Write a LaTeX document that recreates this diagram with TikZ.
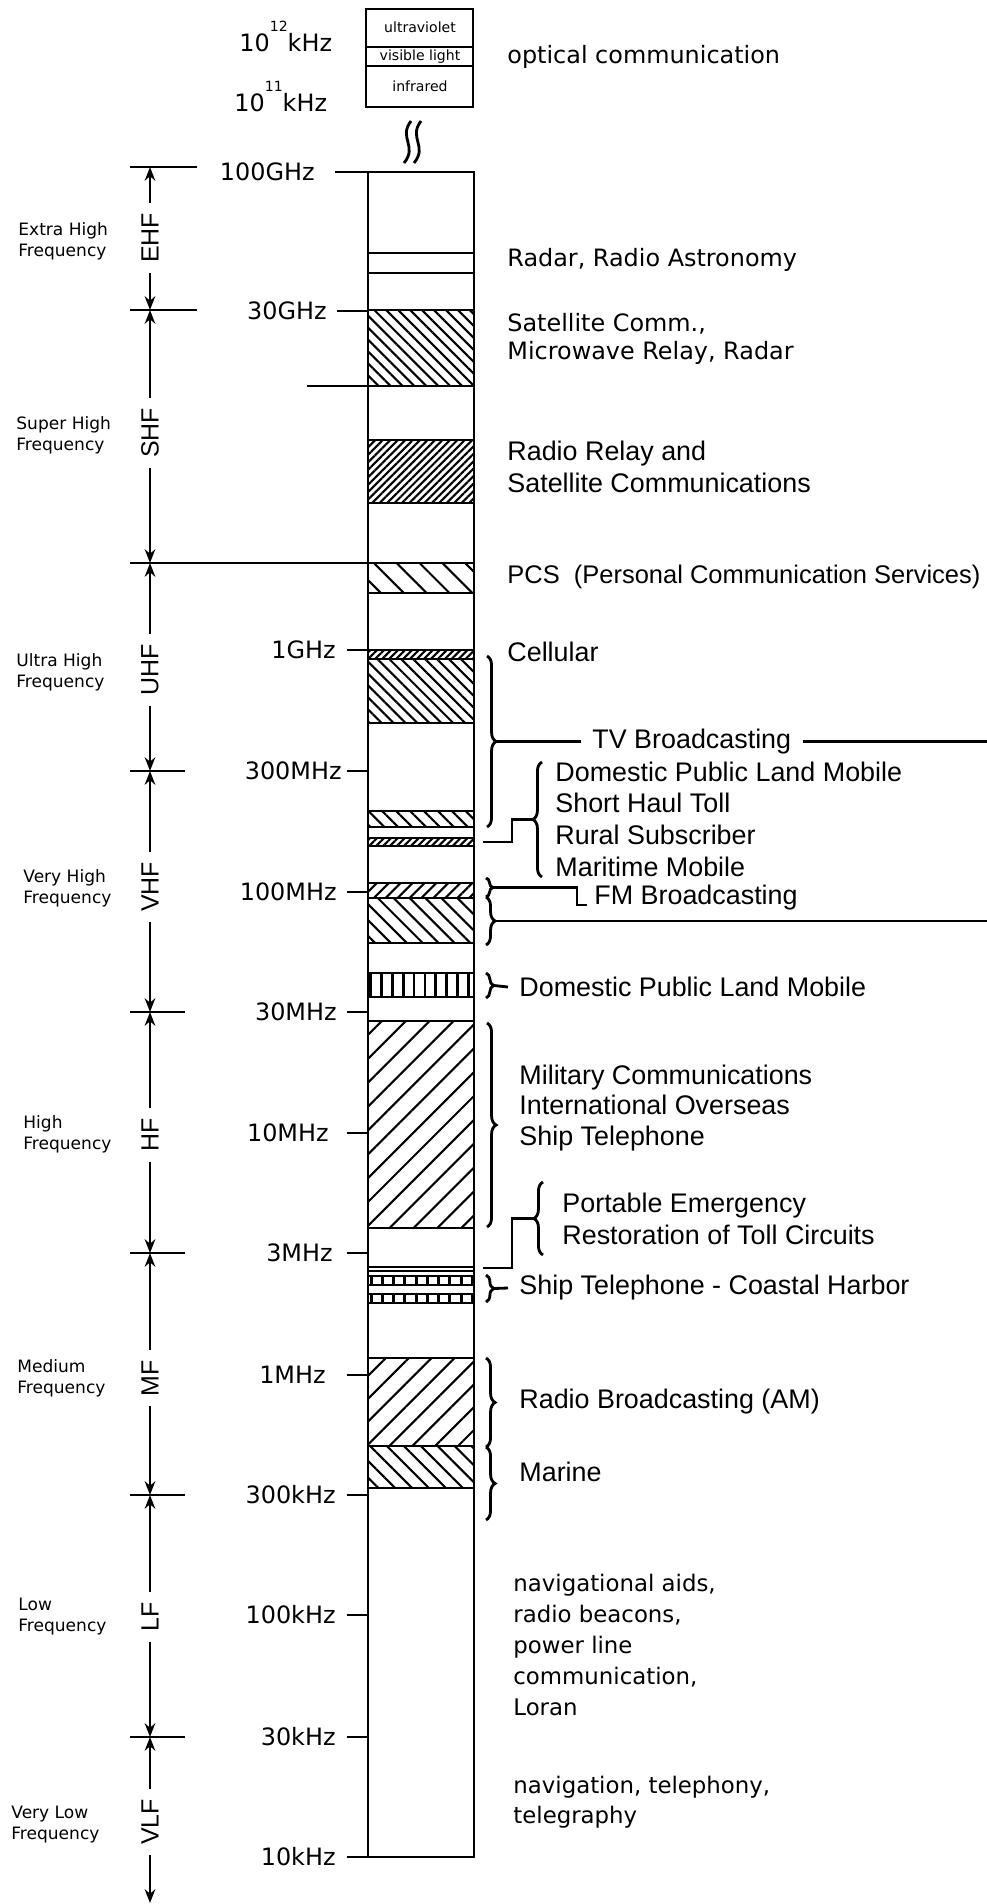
\documentclass[tikz,border=0pt]{standalone}
\usepackage{fontspec}
\setmainfont{Liberation Sans}
\newfontfamily\dvsans{DejaVu Sans}
\usetikzlibrary{arrows.meta,patterns.meta,decorations.pathreplacing}

% font sizes, one unit of the picture is 0.1mm
\newcommand\fqfont{\dvsans\fontsize{6.8pt}{8pt}\selectfont}
\newcommand\rangefont{\dvsans\fontsize{4.85pt}{5.97pt}\selectfont}
\newcommand\abbrfont{\fontsize{7.1pt}{8pt}\selectfont}
\newcommand\lightfont{\dvsans\fontsize{4pt}{5pt}\selectfont}
\newcommand\tahfont{\dvsans\fontsize{6.8pt}{8.8pt}\selectfont}
\newcommand\helvfont{\fontsize{7.65pt}{9pt}\selectfont}

\tikzset{
  freqlabel/.style={anchor=east, inner sep=0pt, font=\fqfont},
  rangename/.style={anchor=west, align=left, inner sep=0pt, font=\rangefont},
  abbr/.style={rotate=90, font=\abbrfont, inner xsep=2.5pt, inner ysep=0pt},
  dimarrow/.style={-{Stealth[length=3.9pt,width=3pt]}},
  svc/.style={anchor=west, align=left, inner sep=0pt, font=\helvfont},
  tsvc/.style={anchor=west, align=left, inner sep=0pt, font=\tahfont},
  nwh/.style={pattern={Lines[angle=-45,distance=#1,line width=0.6pt]}},
  neh/.style={pattern={Lines[angle=45,distance=#1,line width=0.6pt]}},
  vbar/.style={pattern={Lines[angle=90,distance=#1,line width=0.8pt]}},
  brc/.style={decorate,decoration={brace,amplitude=#1}},
  brc/.default=2.6pt
}

\begin{document}
\begin{tikzpicture}[x=0.1mm, y=-0.1mm, line width=0.8pt]
  \useasboundingbox (0,0) rectangle (987,1904);

  % optical part
  \draw (366,9) rectangle (473,107);
  \draw (366,47) -- (473,47) (366,66) -- (473,66);
  \node[font=\lightfont, inner sep=0pt] (uv) at (420,27) {ultraviolet};
  \node[font=\lightfont, inner sep=0pt] (vis) at (420,57) {visible light};
  \node[font=\lightfont, inner sep=0pt] (ir) at (420,86) {infrared};
  \node[anchor=base west, inner sep=0pt, font=\fqfont] (tera) at (238,52) {10\raisebox{2mm}{\lightfont 12}kHz};
  \node[anchor=base west, inner sep=0pt, font=\fqfont] (giga) at (233,112) {10\raisebox{2mm}{\lightfont 11}kHz};
  \draw (411,121) .. controls (398,138) and (418,146) .. (404,163);
  \draw (421,121) .. controls (408,138) and (428,146) .. (414,163);
  \node[tsvc] (optical) at (506,57) {optical communication};

  % bands
  \draw (368,253) -- (474,253) (368,273) -- (474,273);
  \draw[nwh=2.4pt] (368,310) rectangle (474,386);
  \draw[neh=1.5pt] (368,440) rectangle (474,503);
  \draw[nwh=4.6pt] (368,563) rectangle (474,593);
  \draw[neh=1.4pt] (368,650) rectangle (474,659);
  \draw[nwh=2.4pt] (368,659) rectangle (474,723);
  \draw[nwh=2.8pt] (368,811) rectangle (474,827);
  \draw[neh=1.4pt] (368,838) rectangle (474,846);
  \draw[neh=2.4pt] (368,883) rectangle (474,898);
  \draw[nwh=3.2pt] (368,898) rectangle (474,943);
  \draw[vbar=3.1pt] (368,973) rectangle (474,997);
  \draw[neh=4.8pt] (368,1021) rectangle (474,1228);
  \draw (368,1267) -- (474,1267) (368,1271) -- (474,1271);
  \draw[vbar=3.2pt] (368,1276) rectangle (474,1285);
  \draw[vbar=3.2pt] (368,1294) rectangle (474,1303);
  \draw[neh=4.6pt] (368,1358) rectangle (474,1446);
  \draw[nwh=3.4pt] (368,1446) rectangle (474,1488);
  \draw (368,172) rectangle (474,1857);
  \draw (307,386) -- (368,386);
  \draw (130,563) -- (368,563);

  % frequency marks
  \foreach \y/\f/\t/\r in {172/100GHz/335/316, 311/30GHz/337/328, 650/1GHz/347/337,
      771/300MHz/347/343, 892/100MHz/347/338, 1012/30MHz/347/338, 1133/10MHz/347/330,
      1253/3MHz/347/334, 1375/1MHz/347/327, 1495/300kHz/347/337, 1615/100kHz/347/337,
      1737/30kHz/347/337, 1857/10kHz/347/337} {
    \draw (\t,\y) -- (368,\y);
    \node[freqlabel] (f\y) at (\r,\y) {\f};
  }

  % ranges on the left
  \foreach \y in {167,310} \draw (130,\y) -- (197,\y);
  \foreach \y in {771,1012,1253,1495,1737} \draw (130,\y) -- (185,\y);
  \foreach \rn/\ym/\ya/\yb in {EHF/238/167/310, SHF/433/310/563, UHF/670/563/771,
      VHF/887/771/1012, HF/1135/1012/1253, MF/1378/1253/1495, LF/1617/1495/1737,
      VLF/1822/1737/1903} {
    \node[abbr] (\rn) at (150,\ym) {\rn};
    \draw[dimarrow] (\rn.east) -- (150,\ya);
    \draw[dimarrow] (\rn.west) -- (150,\yb);
  }
  \node[rangename] (ehfn) at (17,241) {Extra High\\Frequency};
  \node[rangename] (shfn) at (15,435) {Super High\\Frequency};
  \node[rangename] (uhfn) at (15,672) {Ultra High\\Frequency};
  \node[rangename] (vhfn) at (22,888) {Very High\\Frequency};
  \node[rangename] (hfn) at (22,1134) {High\\Frequency};
  \node[rangename] (mfn) at (16,1378) {Medium\\Frequency};
  \node[rangename] (lfn) at (17,1617) {Low\\Frequency};
  \node[rangename] (vlfn) at (10,1825) {Very Low\\Frequency};

  % services
  \node[tsvc] (radar) at (506,260) {Radar, Radio Astronomy};
  \node[tsvc, font=\dvsans\fontsize{6.8pt}{8pt}\selectfont] (satcomm) at (506,339) {Satellite Comm.,\\Microwave Relay, Radar};
  \node[svc] (relay) at (506,467) {Radio Relay and\\Satellite Communications};
  \node[svc, font=\fontsize{7.25pt}{9pt}\selectfont] (pcs) at (506,577) {PCS\ \ (Personal Communication Services)};
  \node[svc] (cell) at (506,652) {Cellular};

  \draw[brc] (487,656) -- (487,827);
  \coordinate (tvtip) at (496,741.5);
  \node[svc, inner xsep=1mm] (tv) at (581,741.5) {TV Broadcasting};
  \coordinate (tvend) at (987,741.5);
  \draw (tvtip) -- (tv.west) (tv.east) -- (tvend);

  \draw[brc] (542,877) -- (542,762);
  \coordinate (domtip) at (533,819.5);
  \coordinate (ruralband) at (483,842);
  \draw (domtip) -- (512,819.5) |- (ruralband);
  \node[svc] (dom) at (554,819) {Domestic Public Land Mobile\\Short Haul Toll\\Rural Subscriber\\Maritime Mobile};

  \draw[brc=2pt] (486,878) -- (486,897);
  \draw[brc] (486,897) -- (486,945);
  \coordinate (fmtip) at (493,887.5);
  \coordinate (fmhook) at (587,905);
  \node[svc] (fm) at (593,898) {FM Broadcasting};
  \draw (fmtip) -- (577,887.5) |- (fmhook);
  \coordinate (tv2tip) at (495,921);
  \coordinate (tv2end) at (987,921);
  \draw (tv2tip) -- (tv2end);

  \draw[brc=2.2pt] (486,973) -- (486,998);
  \coordinate (dom2tip) at (494,985.5);
  \node[svc, inner xsep=1mm] (dom2) at (508,987) {Domestic Public Land Mobile};
  \draw (dom2tip) -- (dom2.west);

  \draw[brc] (487,1023) -- (487,1227);
  \node[svc, font=\fontsize{7.65pt}{8.6pt}\selectfont] (mil) at (518,1108) {Military Communications\\International Overseas\\Ship Telephone};

  \draw[brc] (543,1255) -- (543,1182);
  \coordinate (pettip) at (534,1218.5);
  \coordinate (shipband) at (483,1268);
  \draw (pettip) -- (512,1218.5) |- (shipband);
  \node[svc] (pet) at (561,1219) {Portable Emergency\\Restoration of Toll Circuits};

  \draw[brc=2.2pt] (486,1275) -- (486,1302);
  \coordinate (shiptip) at (494,1288.5);
  \node[svc, inner xsep=1mm] (ship) at (508,1288) {Ship Telephone - Coastal Harbor};
  \draw (shiptip) -- (ship.west);

  \draw[brc] (486,1358) -- (486,1447);
  \node[svc] (am) at (518,1402) {Radio Broadcasting (AM)};
  \draw[brc] (486,1447) -- (486,1520);
  \node[svc] (marine) at (518,1472) {Marine};

  \node[tsvc, font=\dvsans\fontsize{6.5pt}{8.8pt}\selectfont] (nav) at (512,1645) {navigational aids,\\radio beacons,\\power line\\communication,\\Loran};
  \node[tsvc, font=\dvsans\fontsize{6.5pt}{8.6pt}\selectfont] (vlfuse) at (512,1802) {navigation, telephony,\\telegraphy};
\end{tikzpicture}
\end{document}
